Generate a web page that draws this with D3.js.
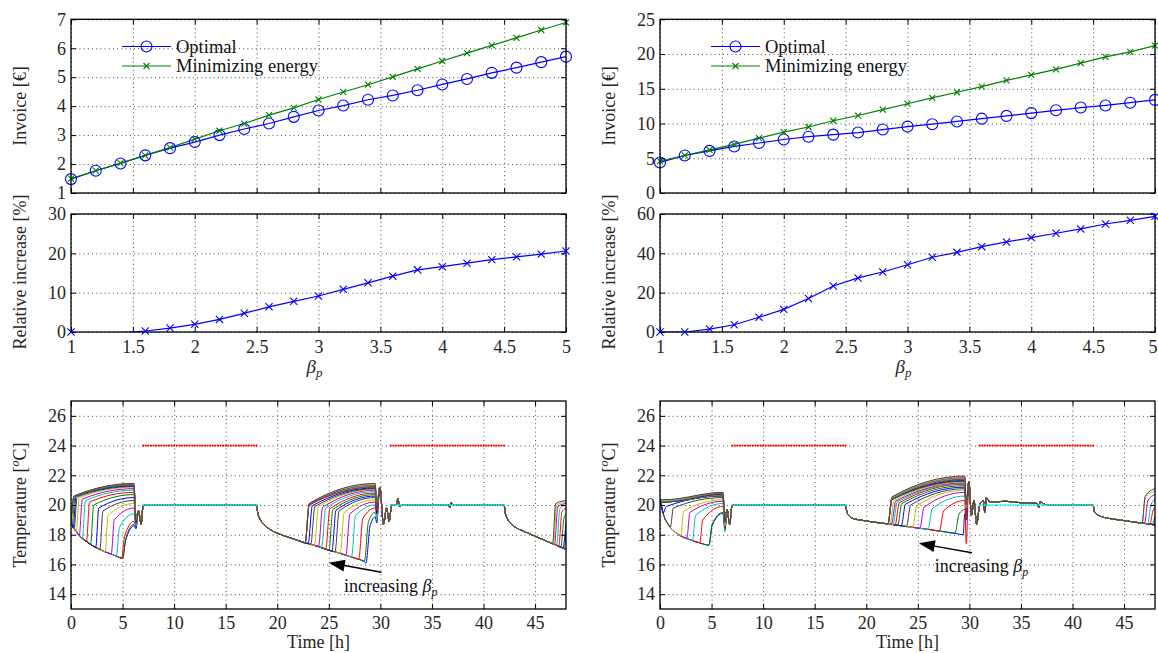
<!DOCTYPE html>
<html><head><meta charset="utf-8">
<script src="https://cdn.jsdelivr.net/npm/d3@7"></script>
<style>body{margin:0;background:#fff}svg{display:block}</style>
</head><body><svg id="c" width="1158" height="653"></svg>
<script>
// ---------------- DATA ----------------
const betaValues = [1.0,1.2,1.4,1.6,1.8,2.0,2.2,2.4,2.6,2.8,3.0,3.2,3.4,3.6,3.8,4.0,4.2,4.4,4.6,4.8,5.0];
const betaTicks = [1,1.5,2,2.5,3,3.5,4,4.5,5];

const invoiceOptimalL = [1.48,1.77,2.02,2.30,2.55,2.76,3.0,3.21,3.40,3.63,3.85,4.02,4.22,4.37,4.55,4.75,4.94,5.15,5.33,5.52,5.71];
const invoiceEnergyL  = [1.5,1.77,2.03,2.3,2.57,2.86,3.15,3.40,3.69,3.94,4.23,4.49,4.74,5.01,5.29,5.56,5.83,6.10,6.36,6.63,6.89];
const relIncreaseL    = [0,-1.0,-0.2,0.25,1.0,1.95,3.2,4.75,6.4,7.8,9.15,10.85,12.5,14.2,15.8,16.6,17.5,18.4,19.1,19.8,20.6];
const invoiceOptimalR = [4.4,5.4,6.06,6.7,7.2,7.7,8.1,8.4,8.7,9.13,9.56,9.9,10.3,10.7,11.1,11.5,11.9,12.3,12.6,13.0,13.4];
const invoiceEnergyR  = [4.6,5.4,6.2,7.0,7.9,8.75,9.5,10.4,11.15,12.0,12.85,13.7,14.5,15.3,16.2,17.0,17.8,18.7,19.6,20.3,21.2];
const relIncreaseR    = [0,0,1.5,3.7,7.5,11.5,17.0,23.4,27.5,30.5,34.2,38,40.5,43.4,45.8,48,50.2,52.4,54.9,56.8,58.8];

const invoiceTicksL = [1,2,3,4,5,6,7];
const invoiceTicksR = [0,5,10,15,20,25];
const relTicksL = [0,10,20,30];
const relTicksR = [0,20,40,60];
const timeTicks = [0,5,10,15,20,25,30,35,40,45];
const tempTicks = [14,16,18,20,22,24,26];
const legendLabels = ["Optimal","Minimizing energy"];

// comfort bounds (occupied periods)
const occupancy = [[7,18],[31,42]];
const upperBound = 24, lowerBound = 20, boundStep = 0.25;

// ---- temperature traces, left case (one trace per beta) ----
const envMorningL = [[0,18.8],[0.1,18.65],[0.2,18.5],[0.3,18.4],[0.5,18.2],[0.8,17.95],[1.1,17.75],[1.5,17.55],[1.9,17.35],[2.4,17.15],[2.8,17.0],[3.3,16.85],[3.9,16.7],[4.4,16.55],[4.9,16.42],[5.0,16.4]];
const morningOnL   = [5.0,5.0,4.9,4.4,3.9,3.3,2.8,2.4,1.9,1.5,1.1,0.8,0.5,0.3,0.2,0.1,0,0,0,0,0];
const morningKneeL = [17.6,17.7,17.9,18.5,19.0,19.3,19.6,19.8,20.0,20.2,20.3,20.4,20.5,20.55,20.6,20.6,20.6,20.6,20.6,20.6,20.6];
const morningPeakL = [18.6,18.7,18.9,19.4,19.8,20.1,20.3,20.5,20.7,20.85,21.0,21.1,21.2,21.25,21.3,21.35,21.38,21.4,21.42,21.44,21.45];
const morningDipL  = [18.4,18.5,18.6,18.7,18.5,18.8,18.9,18.7,19.0,18.9,18.6,19.1,18.9,19.2,19.0,18.8,19.1,18.9,19.2,19.0,18.8];
const morningTailL = [[6.55,19.6],[6.8,18.7],[7.0,20.0]];
const envAfternoonL = [[18,20],[18.1,19.5],[18.3,19.1],[18.7,18.7],[19.3,18.35],[20,18.1],[21,17.85],[22,17.62],[22.7,17.45],[23.0,17.4],[23.25,17.35],[23.6,17.28],[24.0,17.2],[24.3,17.12],[24.7,17.03],[25.0,16.95],[25.3,16.9],[25.6,16.85],[26.1,16.75],[26.65,16.62],[27.2,16.5],[27.9,16.35],[28.45,16.2],[28.6,16.08]];
const afternoonOnL   = [28.6,28.45,27.9,27.2,26.65,26.1,25.6,25.3,25.0,24.7,24.3,24.0,23.6,23.25,23.0,22.7,22.7,22.7,22.7,22.7,22.7];
const afternoonKneeL = [18.6,18.9,19.1,19.3,19.4,19.5,19.6,19.65,19.7,19.75,19.8,19.85,19.9,19.9,19.95,20.0,20.0,20.05,20.05,20.1,20.1];
const afternoonPeakL = [19.2,19.5,19.8,20.0,20.2,20.35,20.5,20.6,20.7,20.8,20.9,21.0,21.05,21.1,21.15,21.2,21.25,21.3,21.35,21.4,21.45];
const afternoonDipL  = [18.8,19.2,19.5,19.0,19.6,19.3,19.8,19.4,19.9,19.5,20.0,19.6,19.7,19.9,19.5,19.8,19.6,20.0,19.7,19.9,19.8];
const afternoonTailL = [[29.95,21.2],[30.3,18.7],[30.6,19.8],[30.85,18.9],[31.1,20.0],[31.55,20.0],[31.7,20.45],[31.85,19.9],[32.1,20.0],[36.6,20.0],[36.75,19.8],[36.85,20.2],[37.0,20.0],[38,20.0]];
const envEveningL = [[42,20],[42.1,19.5],[42.3,19.1],[42.6,18.8],[43,18.55],[44,18.2],[45,17.9],[46,17.6],[46.7,17.4],[46.8,17.37],[46.9,17.34],[47.1,17.28],[47.3,17.22],[47.5,17.16],[47.7,17.1],[47.85,17.05],[48,17.0]];
const eveningOnL   = [null,null,null,null,null,null,null,null,null,null,null,null,null,47.85,47.7,47.5,47.3,47.1,46.9,46.8,46.7];
const eveningKneeL = [null,null,null,null,null,null,null,null,null,null,null,null,null,null,null,19.1,19.5,19.75,19.9,20.0,20.1];
const eveningEndL  = [null,null,null,null,null,null,null,null,null,null,null,null,null,18.3,18.9,19.4,19.8,20.0,20.1,20.2,20.3];

// ---- temperature traces, right case ----
const envMorningR = [[0,20.4],[0.15,19.9],[0.3,19.45],[0.5,19.05],[0.75,18.75],[1.0,18.5],[1.5,18.15],[2.0,17.92],[2.6,17.75],[3.15,17.6],[3.85,17.45],[4.75,17.3]];
const morningOnR   = [4.75,4.75,3.85,3.15,2.6,2.0,1.0,0.3,0,0,0,0,0,0,0,0,0,0,0,0,0];
const morningKneeR = [18.6,18.7,19.0,19.3,19.5,19.6,19.8,19.9,20.2,20.2,20.2,20.2,20.2,20.2,20.2,20.2,20.25,20.25,20.3,20.3,20.35];
const morningPeakR = [19.45,19.5,19.9,20.1,20.25,20.35,20.5,20.6,20.62,20.64,20.66,20.68,20.7,20.72,20.74,20.76,20.78,20.8,20.82,20.84,20.85];
const morningDipR  = [18.3,18.4,18.6,18.2,18.5,18.8,18.4,18.7,18.9,18.5,18.8,19.0,18.6,18.9,18.7,19.0,18.8,18.6,18.9,18.7,18.8];
const morningTailR = [[6.5,19.7],[6.75,18.7],[7.0,20.0]];
const envAfternoonR = [[18,20],[18.1,19.6],[18.3,19.3],[18.7,19.1],[19.5,18.98],[20.5,18.87],[21.5,18.78],[22.1,18.73],[22.3,18.71],[22.45,18.7],[22.6,18.68],[22.8,18.66],[23.05,18.64],[23.4,18.6],[23.9,18.55],[24.5,18.5],[25.2,18.43],[26.0,18.36],[27.1,18.25],[28.6,18.1],[29.4,18.0]];
const afternoonOnR   = [29.4,28.6,27.1,26.0,25.2,24.5,23.9,23.4,23.05,22.8,22.6,22.45,22.3,22.1,22.1,22.1,22.1,22.1,22.1,22.1,22.1];
const afternoonKneeR = [18.9,19.4,19.6,19.75,19.85,19.95,20.0,20.05,20.1,20.15,20.2,20.25,20.3,20.35,20.4,20.4,20.45,20.45,20.5,20.5,20.55];
const afternoonPeakR = [19.4,19.7,20.3,20.6,20.85,21.0,21.1,21.2,21.3,21.4,21.45,21.5,21.55,21.6,21.65,21.7,21.75,21.8,21.85,21.9,21.95];
const afternoonDipR  = [19.0,19.6,17.4,19.8,19.3,20.0,19.5,19.9,19.2,19.7,20.1,19.6,19.9,19.4,19.8,20.0,19.7,19.9,19.5,19.8,20.0];
const afternoonTailR = [[29.95,21.6],[30.2,19.3],[30.45,20.3],[30.7,18.7],[31.0,20.0],[31.35,20.3],[31.5,19.5],[31.65,20.5],[32.0,20.2],[33.5,20.25],[35.0,20.15],[36.6,20.1],[36.75,19.8],[36.85,20.25],[37.2,20.05],[38.0,20.0]];
const envEveningR = [[42,20],[42.1,19.6],[42.3,19.4],[42.7,19.25],[43.5,19.1],[44.5,19.0],[45.5,18.9],[46.75,18.78],[47.0,18.76],[47.3,18.73],[47.5,18.71],[47.7,18.69],[47.85,18.67],[48,18.65]];
const eveningOnR   = [null,null,null,null,null,null,null,null,null,null,null,null,null,null,47.85,47.7,47.5,47.3,47.0,46.75,46.75];
const eveningKneeR = [null,null,null,null,null,null,null,null,null,null,null,null,null,null,null,null,19.6,20.0,20.3,20.5,20.6];
const eveningEndR  = [null,null,null,null,null,null,null,null,null,null,null,null,null,null,18.9,19.3,19.9,20.4,20.7,20.95,21.1];

const colorOrder = ['#0000ff','#008000','#ff0000','#00bfbf','#bf00bf','#bfbf00','#404040'];

// ---------------- DRAWING ----------------
const FONT = "'Liberation Serif','Times New Roman',serif";
const TXT = '#262626';
const svg = d3.select('#c').style('font-family', FONT);
let clipId = 0;

function panel(o){
  const x = d3.scaleLinear().domain(o.xd).range([o.x0,o.x1]);
  const y = d3.scaleLinear().domain(o.yd).range([o.y1,o.y0]);
  const g = svg.append('g');
  const w = o.x1-o.x0, h = o.y1-o.y0;
  const gx = g.append('g').attr('transform',`translate(0,${o.y1})`)
    .call(d3.axisBottom(x).tickValues(o.xt).tickSize(-h).tickFormat(''));
  const gy = g.append('g').attr('transform',`translate(${o.x0},0)`)
    .call(d3.axisLeft(y).tickValues(o.yt).tickSize(-w).tickFormat(''));
  [gx,gy].forEach(a=>{a.select('.domain').remove();
    a.selectAll('line').attr('stroke','#333').attr('stroke-width',0.9).attr('stroke-dasharray','1,3.2');});
  const id = 'clip'+(clipId++);
  g.append('clipPath').attr('id',id).append('rect').attr('x',o.x0).attr('y',o.y0).attr('width',w).attr('height',h);
  const plot = g.append('g').attr('clip-path',`url(#${id})`);
  const top = g.append('g');
  function frame(){
    const fmt = d=>String(d);
    const ab = top.append('g').attr('transform',`translate(0,${o.y1})`)
      .call(d3.axisBottom(x).tickValues(o.xt).tickSizeInner(-5).tickSizeOuter(0).tickPadding(o.xPad||8).tickFormat(o.xLabels?fmt:''));
    const at = top.append('g').attr('transform',`translate(0,${o.y0})`)
      .call(d3.axisTop(x).tickValues(o.xt).tickSizeInner(-5).tickSizeOuter(0).tickFormat(''));
    const al = top.append('g').attr('transform',`translate(${o.x0},0)`)
      .call(d3.axisLeft(y).tickValues(o.yt).tickSizeInner(-5).tickSizeOuter(0).tickPadding(5).tickFormat(fmt));
    const ar = top.append('g').attr('transform',`translate(${o.x1},0)`)
      .call(d3.axisRight(y).tickValues(o.yt).tickSizeInner(-5).tickSizeOuter(0).tickFormat(''));
    [ab,at,al,ar].forEach(a=>{a.select('.domain').remove();
      a.selectAll('line').attr('stroke','#000').attr('stroke-width',1);
      a.selectAll('text').attr('fill',TXT).style('font-family',FONT).style('font-size','18px');});
    // keep a label that would run past the page edge inside it
    ab.selectAll('text').each(function(){
      const bb = this.getBBox(); const tx = x(d3.select(this.parentNode).datum());
      if(tx + bb.width/2 > 1157) d3.select(this).attr('text-anchor','end').attr('x', 1157 - tx);
    });
    top.append('rect').attr('x',o.x0).attr('y',o.y0).attr('width',w).attr('height',h)
      .attr('fill','none').attr('stroke','#000').attr('stroke-width',1.3);
  }
  return {x,y,g,plot,top,frame};
}

function yLabel(cx, cy, parts){
  const t = svg.append('text').attr('transform',`translate(${cx},${cy}) rotate(-90)`)
    .attr('text-anchor','middle').attr('fill',TXT).style('font-size','18px');
  parts(t);
}

const cols = [{x0:71,x1:566,lab:26}, {x0:660,x1:1155,lab:615}];
const cases = [
  {opt:invoiceOptimalL, en:invoiceEnergyL, rel:relIncreaseL, invD:[1,7], invT:invoiceTicksL, relD:[0,30], relT:relTicksL,
   T:{envMorning:envMorningL,morningOn:morningOnL,morningKnee:morningKneeL,morningPeak:morningPeakL,morningDip:morningDipL,morningTail:morningTailL,
      envAfternoon:envAfternoonL,afternoonOn:afternoonOnL,afternoonKnee:afternoonKneeL,afternoonPeak:afternoonPeakL,afternoonDip:afternoonDipL,afternoonTail:afternoonTailL,
      envEvening:envEveningL,eveningOn:eveningOnL,eveningKnee:eveningKneeL,eveningEnd:eveningEndL, peakT:29.5, dipT:29.65},
   arrow:{from:[30.1,15.47],to:[25.0,16.12]}, note:[26.47,14.16]},
  {opt:invoiceOptimalR, en:invoiceEnergyR, rel:relIncreaseR, invD:[0,25], invT:invoiceTicksR, relD:[0,60], relT:relTicksR,
   T:{envMorning:envMorningR,morningOn:morningOnR,morningKnee:morningKneeR,morningPeak:morningPeakR,morningDip:morningDipR,morningTail:morningTailR,
      envAfternoon:envAfternoonR,afternoonOn:afternoonOnR,afternoonKnee:afternoonKneeR,afternoonPeak:afternoonPeakR,afternoonDip:afternoonDipR,afternoonTail:afternoonTailR,
      envEvening:envEveningR,eveningOn:eveningOnR,eveningKnee:eveningKneeR,eveningEnd:eveningEndR, peakT:29.55, dipT:29.7},
   arrow:{from:[30.24,16.79],to:[25.1,17.42]}, note:[26.65,15.51]}
];

function buildTrace(P, i){
  const pts = [];
  const on = P.morningOn[i];
  P.envMorning.forEach(p=>{ if(p[0] <= on) pts.push(p); });
  pts.push([on+0.3, P.morningKnee[i]]);
  pts.push([6.1, P.morningPeak[i]]);
  pts.push([6.3, P.morningDip[i]]);
  P.morningTail.forEach(p=>pts.push(p));
  const on2 = P.afternoonOn[i];
  P.envAfternoon.forEach(p=>{ if(p[0] <= on2) pts.push(p); });
  if(on2+0.4 < P.peakT-0.05) pts.push([on2+0.4, P.afternoonKnee[i]]);
  pts.push([P.peakT, P.afternoonPeak[i]]);
  pts.push([P.dipT, P.afternoonDip[i]]);
  P.afternoonTail.forEach(p=>pts.push(p));
  const on3 = P.eveningOn[i];
  P.envEvening.forEach(p=>{ if(on3==null || p[0] <= on3) pts.push(p); });
  if(on3!=null){
    if(P.eveningKnee[i]!=null) pts.push([on3+0.3, P.eveningKnee[i]]);
    pts.push([48, P.eveningEnd[i]]);
  }
  return pts;
}

const xMark = 'M-3.6,-3.6L3.6,3.6M-3.6,3.6L3.6,-3.6';

cases.forEach((c, k)=>{
  const col = cols[k];
  // ---- invoice panel ----
  const p1 = panel({x0:col.x0,x1:col.x1,y0:19.3,y1:193,xd:[1,5],yd:c.invD,xt:betaTicks,yt:c.invT,xLabels:false});
  const line1 = d3.line().x((d,i)=>p1.x(betaValues[i])).y(d=>p1.y(d));
  p1.plot.append('path').datum(c.opt).attr('d',line1).attr('fill','none').attr('stroke','#0000ff').attr('stroke-width',1.2);
  p1.plot.append('path').datum(c.en).attr('d',line1).attr('fill','none').attr('stroke','#008000').attr('stroke-width',1.2);
  p1.top.selectAll(null).data(c.opt).enter().append('circle')
    .attr('cx',(d,i)=>p1.x(betaValues[i])).attr('cy',d=>p1.y(d)).attr('r',5.5)
    .attr('fill','none').attr('stroke','#0000ff').attr('stroke-width',1.1);
  p1.top.selectAll(null).data(c.en).enter().append('path')
    .attr('transform',(d,i)=>`translate(${p1.x(betaValues[i])},${p1.y(d)})`).attr('d','M-3,-3L3,3M-3,3L3,-3')
    .attr('stroke','#008000').attr('stroke-width',1.1);
  const lx = col.x0+51, ly1 = 46.5, ly2 = 66;
  const lg = p1.top.append('g');
  lg.append('line').attr('x1',lx).attr('x2',lx+49).attr('y1',ly1).attr('y2',ly1).attr('stroke','#0000ff').attr('stroke-width',1.2);
  lg.append('circle').attr('cx',lx+24.5).attr('cy',ly1).attr('r',5.5).attr('fill','none').attr('stroke','#0000ff').attr('stroke-width',1.1);
  lg.append('line').attr('x1',lx).attr('x2',lx+49).attr('y1',ly2).attr('y2',ly2).attr('stroke','#008000').attr('stroke-width',1.2);
  lg.append('path').attr('transform',`translate(${lx+24.5},${ly2})`).attr('d','M-3,-3L3,3M-3,3L3,-3').attr('stroke','#008000').attr('stroke-width',1.1);
  lg.append('text').attr('x',lx+54).attr('y',ly1+6).text(legendLabels[0]).attr('fill','#111').style('font-size','18.5px');
  lg.append('text').attr('x',lx+54).attr('y',ly2+6).text(legendLabels[1]).attr('fill','#111').style('font-size','18.5px');
  p1.frame();
  yLabel(col.lab, 106, t=>t.text('Invoice [€]'));

  // ---- relative increase panel ----
  const p2 = panel({x0:col.x0,x1:col.x1,y0:214,y1:332,xd:[1,5],yd:c.relD,xt:betaTicks,yt:c.relT,xLabels:true,xPad:8});
  const line2 = d3.line().x((d,i)=>p2.x(betaValues[i])).y(d=>p2.y(d));
  p2.plot.append('path').datum(c.rel).attr('d',line2).attr('fill','none').attr('stroke','#0000ff').attr('stroke-width',1.2);
  p2.frame();
  p2.top.selectAll(null).data(c.rel.map((d,i)=>[betaValues[i],d]).filter(d=>d[1]>=c.relD[0])).enter().append('path')
    .attr('transform',d=>`translate(${p2.x(d[0])},${p2.y(d[1])})`).attr('d',xMark)
    .attr('stroke','#0000ff').attr('stroke-width',1.1);
  yLabel(col.lab, 272, t=>t.text('Relative increase [%]'));
  const bl = svg.append('text').attr('x',(col.x0+col.x1)/2-4).attr('y',373).attr('text-anchor','middle').attr('fill',TXT).style('font-size','19px');
  bl.append('tspan').text('β').style('font-style','italic');
  bl.append('tspan').text('p').style('font-style','italic').style('font-size','13px').attr('dy',4);

  // ---- temperature panel ----
  const p3 = panel({x0:col.x0,x1:col.x1,y0:401,y1:609,xd:[0,48],yd:[13,27],xt:timeTicks,yt:tempTicks,xLabels:true,xPad:7});
  const line3 = d3.line().x(d=>p3.x(d[0])).y(d=>p3.y(d[1])).curve(d3.curveMonotoneX);
  betaValues.forEach((b,i)=>{
    p3.plot.append('path').datum(buildTrace(c.T,i)).attr('d',line3).attr('fill','none')
      .attr('stroke',colorOrder[i%7]).attr('stroke-width',1.0);
  });
  occupancy.forEach(([a,b])=>{
    const ts = d3.range(a, b+1e-9, boundStep);
    p3.plot.selectAll(null).data(ts).enter().append('circle').attr('cx',d=>p3.x(d)).attr('cy',p3.y(upperBound)).attr('r',1.1).attr('fill','#ff0000');
    p3.plot.selectAll(null).data(ts).enter().append('circle').attr('cx',d=>p3.x(d)).attr('cy',p3.y(lowerBound)).attr('r',1.0).attr('fill','#00ffff');
  });
  const ax1 = p3.x(c.arrow.from[0]), ay1 = p3.y(c.arrow.from[1]);
  const ax2 = p3.x(c.arrow.to[0]), ay2 = p3.y(c.arrow.to[1]);
  const ang = Math.atan2(ay2-ay1, ax2-ax1), L = 16, Wd = 6;
  const bx = ax2 - L*Math.cos(ang), by = ay2 - L*Math.sin(ang);
  p3.top.append('line').attr('x1',ax1).attr('y1',ay1).attr('x2',bx).attr('y2',by).attr('stroke','#000').attr('stroke-width',1.4);
  p3.top.append('path').attr('d',`M${ax2},${ay2}L${bx - Wd*Math.sin(ang)},${by + Wd*Math.cos(ang)}L${bx + Wd*Math.sin(ang)},${by - Wd*Math.cos(ang)}Z`).attr('fill','#000');
  const nt = p3.top.append('text').attr('x',p3.x(c.note[0])).attr('y',p3.y(c.note[1])).attr('fill','#111').style('font-size','18px');
  nt.append('tspan').text('increasing ');
  nt.append('tspan').text('β').style('font-style','italic');
  nt.append('tspan').text('p').style('font-style','italic').style('font-size','12px').attr('dy',4);
  p3.frame();
  yLabel(col.lab, 505, t=>{ t.append('tspan').text('Temperature ['); t.append('tspan').text('o').style('font-style','italic').style('font-size','12px').attr('dy',-7); t.append('tspan').text('C]').attr('dy',7); });
  svg.append('text').attr('x',(col.x0+col.x1)/2).attr('y',648).attr('text-anchor','middle').attr('fill',TXT).style('font-size','18px').text('Time [h]');
});
</script></body></html>
